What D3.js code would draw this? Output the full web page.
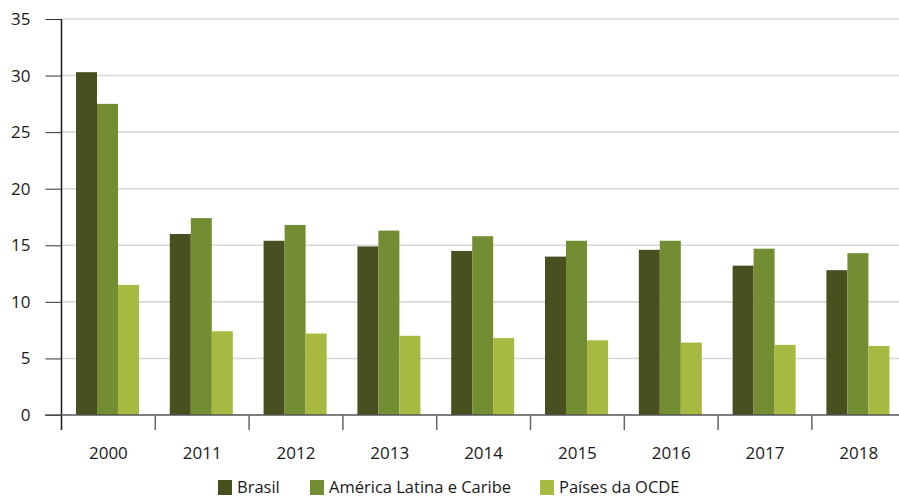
<!DOCTYPE html>
<html>
<head>
<meta charset="utf-8">
<script src="https://cdn.jsdelivr.net/npm/d3@7"></script>
<style>
  body { margin: 0; background: #fff; }
  svg { display: block; font-family: "Open Sans", sans-serif; }
</style>
</head>
<body>
<svg width="899" height="498"></svg>
<script>
var years = ["2000", "2011", "2012", "2013", "2014", "2015", "2016", "2017", "2018"];
var seriesNames = ["Brasil", "América Latina e Caribe", "Países da OCDE"];
var brasil = [30.3, 16.0, 15.4, 14.9, 14.5, 14.0, 14.6, 13.2, 12.8];
var americaLatina = [27.5, 17.4, 16.8, 16.3, 15.8, 15.4, 15.4, 14.7, 14.3];
var ocde = [11.5, 7.4, 7.2, 7.0, 6.8, 6.6, 6.4, 6.2, 6.1];
var yTicks = [0, 5, 10, 15, 20, 25, 30, 35];
var colors = ["#48501f", "#738e32", "#a8b941"];

var seriesValues = [brasil, americaLatina, ocde];
var rows = years.map(function(y, i) {
  return { year: y, values: seriesValues.map(function(s) { return s[i]; }) };
});

var svg = d3.select("svg");
var plotLeft = 61.5, plotBottom = 415, plotTop = 19;

var x = d3.scaleBand().domain(years).range([plotLeft, plotLeft + 9 * 93.8]);
var xSub = d3.scaleBand().domain(d3.range(3)).range([14.5, 77.5]);
var y = d3.scaleLinear().domain([0, 35]).range([plotBottom, plotTop]);

// gridlines
svg.append("g")
  .selectAll("line")
  .data(yTicks.filter(function(d) { return d > 0; }))
  .enter().append("line")
  .attr("x1", plotLeft).attr("x2", 899)
  .attr("y1", function(d) { return y(d); })
  .attr("y2", function(d) { return y(d); })
  .style("stroke", "#d9d9d9")
  .style("stroke-width", "1.6px");

// bars
var groups = svg.append("g").selectAll("g")
  .data(rows).enter().append("g")
  .attr("transform", function(d) { return "translate(" + x(d.year) + ",0)"; });

groups.selectAll("rect")
  .data(function(d) { return d.values; })
  .enter().append("rect")
  .attr("x", function(d, i) { return xSub(i); })
  .attr("width", xSub.bandwidth())
  .attr("y", function(d) { return y(d); })
  .attr("height", function(d) { return y(0) - y(d); })
  .style("fill", function(d, i) { return colors[i]; });

// y axis
var yAxis = svg.append("g")
  .attr("transform", "translate(" + plotLeft + ",0)")
  .call(d3.axisLeft(y).tickValues(yTicks).tickSize(16).tickPadding(15));
yAxis.select(".domain").remove();
yAxis.selectAll(".tick line").style("stroke", "#333");
yAxis.selectAll(".tick text")
  .style("font-size", "17px").style("fill", "#1a1a1a")
  .style("font-family", "Open Sans, sans-serif");

svg.append("line")
  .attr("x1", plotLeft).attr("x2", plotLeft)
  .attr("y1", plotTop).attr("y2", plotBottom + 15)
  .style("stroke", "#1a1a1a").style("stroke-width", "1.5px");

// x axis
svg.append("line")
  .attr("x1", 45).attr("x2", 899)
  .attr("y1", plotBottom).attr("y2", plotBottom)
  .style("stroke", "#555").style("stroke-width", "1.6px");

svg.append("g").selectAll("line")
  .data(years.slice(1))
  .enter().append("line")
  .attr("x1", function(d) { return x(d); })
  .attr("x2", function(d) { return x(d); })
  .attr("y1", plotBottom).attr("y2", plotBottom + 15)
  .style("stroke", "#666").style("stroke-width", "1.5px");

svg.append("g").selectAll("text")
  .data(years).enter().append("text")
  .attr("x", function(d) { return x(d) + x.bandwidth() / 2; })
  .attr("y", 459)
  .attr("text-anchor", "middle")
  .style("font-size", "17px").style("fill", "#1a1a1a")
  .text(function(d) { return d; });

// legend
var legendX = [218, 310, 540];
var legend = svg.append("g").selectAll("g")
  .data(seriesNames).enter().append("g")
  .attr("transform", function(d, i) { return "translate(" + legendX[i] + ",480)"; });
legend.append("rect")
  .attr("width", 14).attr("height", 15)
  .style("fill", function(d, i) { return colors[i]; });
legend.append("text")
  .attr("x", 19).attr("y", 13)
  .style("font-size", "16.5px").style("fill", "#1a1a1a")
  .text(function(d) { return d; });
</script>
</body>
</html>
